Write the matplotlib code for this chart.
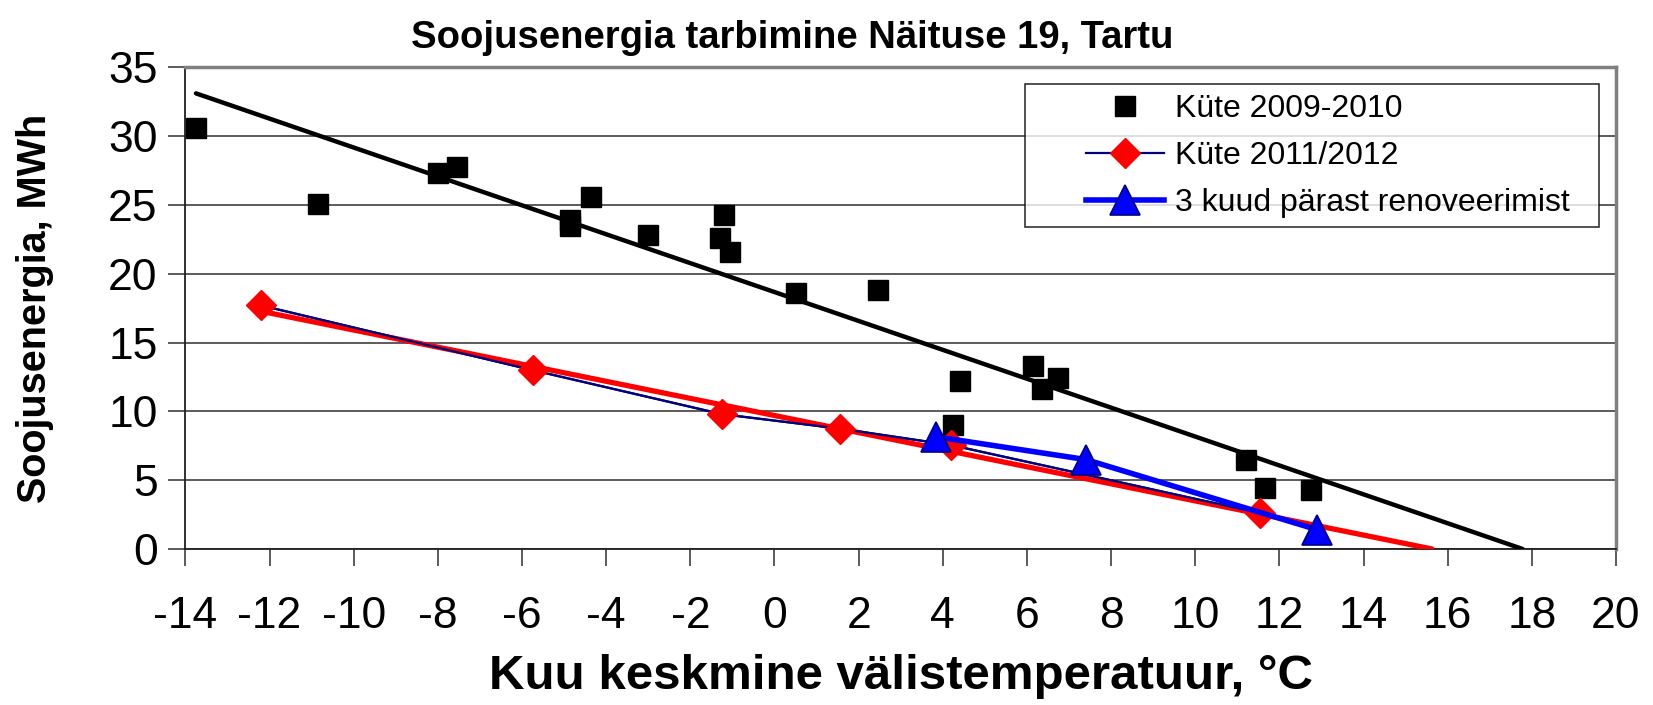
import numpy as np
import matplotlib
matplotlib.use("Agg")
import matplotlib.pyplot as plt
from matplotlib.legend_handler import HandlerLine2D

plt.rcParams['font.family'] = ['Liberation Sans', 'DejaVu Sans']
plt.rcParams['axes.unicode_minus'] = False

# Küte 2009-2010
x_0910 = [-13.75, -10.85, -8.0, -7.55, -4.85, -4.85, -4.35, -3.0, -1.3, -1.2, -1.05,
          0.5, 2.45, 4.25, 4.4, 6.15, 6.35, 6.75, 11.2, 11.65, 12.75]
y_0910 = [30.6, 25.1, 27.3, 27.8, 23.9, 23.5, 25.6, 22.8, 22.6, 24.3, 21.6,
          18.6, 18.8, 9.0, 12.2, 13.3, 11.6, 12.4, 6.5, 4.4, 4.3]

# Küte 2011/2012
x_1112 = [-12.2, -5.75, -1.25, 1.55, 4.2, 11.55]
y_1112 = [17.7, 13.0, 9.8, 8.75, 7.55, 2.6]

# 3 kuud pärast renoveerimist
x_reno = [3.85, 7.4, 12.9]
y_reno = [8.15, 6.5, 1.4]

fig = plt.figure(figsize=(16.53, 7.05), dpi=100)
ax = fig.add_axes([0.1122, 0.2213, 0.8654, 0.683])

ax.set_xlim(-14, 20)
ax.set_ylim(0, 35)
ax.set_xticks(range(-14, 21, 2))
ax.set_yticks(range(0, 36, 5))
ax.yaxis.grid(True, color='#404040', lw=1.2)
ax.set_axisbelow(True)

# trendlines (linear, extended forward to y = 0)
def trend(xs, ys, color, lw):
    k, b = np.polyfit(xs, ys, 1)
    x_end = -b / k
    xx = np.array([min(xs), x_end])
    ax.plot(xx, k * xx + b, color=color, lw=lw, zorder=3, solid_capstyle='round')

ax.plot(x_1112, y_1112, color='#000080', lw=1.6, zorder=2)
trend(x_0910, y_0910, 'black', 3.2)
trend(x_1112, y_1112, 'red', 3.8)

ax.plot(x_0910, y_0910, ls='none', marker='s', ms=15, color='black', zorder=4,
        label='Küte 2009-2010')
ax.plot(x_1112, y_1112, color='#000080', lw=1.6, marker='D', ms=15, mfc='red',
        mec='red', zorder=4, label='Küte 2011/2012')
ax.plot(x_reno, y_reno, color='#0000ff', lw=4, marker='^', ms=22, mfc='#0000ff',
        mec='#000080', mew=1.2, zorder=5, label='3 kuud pärast renoveerimist')

for s in ['top', 'right']:
    ax.spines[s].set_color('#808080')
    ax.spines[s].set_linewidth(2.5)
for s in ['left', 'bottom']:
    ax.spines[s].set_color('#202020')
    ax.spines[s].set_linewidth(1.3)

ax.tick_params(axis='both', direction='out', length=12, width=1.2, color='#404040',
               labelsize=32, pad=8)
ax.tick_params(axis='x', pad=22)

ax.set_title('Soojusenergia tarbimine Näituse 19, Tartu', fontsize=27.5,
             fontweight='bold', pad=14, x=0.424)
ax.set_xlabel('Kuu keskmine välistemperatuur, °C', fontsize=35.5, fontweight='bold',
              labelpad=12)
ax.set_ylabel('Soojusenergia, MWh', fontsize=28.5, fontweight='bold', labelpad=39)

leg = ax.legend(loc='upper left', bbox_to_anchor=(0.5866, 0.0, 0.4017, 0.965),
                mode='expand', fontsize=23, frameon=True, fancybox=False,
                edgecolor='black', borderpad=0.3, labelspacing=0.53,
                handlelength=4.05, handletextpad=0.35, borderaxespad=0,
                handler_map={matplotlib.lines.Line2D: HandlerLine2D(xpad=1.63)})
leg.get_frame().set_linewidth(1.2)

fig.savefig('out.png', dpi=100)
